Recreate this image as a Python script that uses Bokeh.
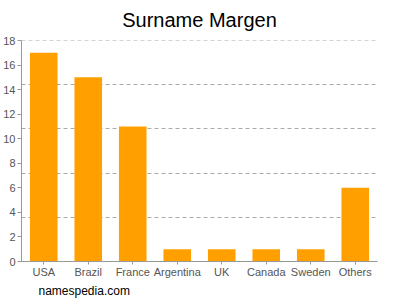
from bokeh.plotting import figure
from bokeh.models import FactorRange, Range1d, FixedTicker, Title, ColumnDataSource, Span
from bokeh.embed import file_html
from bokeh.resources import INLINE

countries = ["USA", "Brazil", "France", "Argentina", "UK", "Canada", "Sweden", "Others"]
counts = [17, 15, 11, 1, 1, 1, 1, 6]
y_ticks = [0, 2, 4, 6, 8, 10, 12, 14, 16, 18]
grid_lines = [3.6, 7.2, 10.8, 14.4, 18]

src = ColumnDataSource(data=dict(x=countries, top=counts))

p = figure(width=400, height=300, output_backend="svg", toolbar_location=None,
           x_range=FactorRange(*countries, range_padding=0),
           y_range=Range1d(0, 18),
           min_border_left=17, min_border_right=23, min_border_top=0, min_border_bottom=39)

p.vbar(x="x", top="top", width=0.62, source=src, fill_color="#FFA000", line_color=None)

p.title.text = "Surname Margen"
p.title.align = "center"
p.title.vertical_align = "top"
p.title.text_font = "Liberation Sans"
p.title.text_font_size = "20px"
p.title.text_font_style = "normal"
p.title.text_color = "#000000"
p.title.text_line_height = 1.0
p.title.standoff = 16

foot = Title(text="namespedia.com", align="left", offset=17, standoff=3,
             text_font="Liberation Sans", text_font_size="12px",
             text_font_style="normal", text_color="#000000")
p.add_layout(foot, "below")

p.outline_line_color = None
p.xgrid.grid_line_color = None
p.ygrid.ticker = FixedTicker(ticks=grid_lines)
p.ygrid.grid_line_color = "#aaaaaa"
p.ygrid.grid_line_dash = "4 3"
p.add_layout(Span(location=grid_lines[-1], dimension="width", line_color="#aaaaaa",
                  line_dash="4 3", line_width=1))

p.yaxis.ticker = FixedTicker(ticks=y_ticks)
for ax in (p.xaxis, p.yaxis):
    ax.axis_line_color = "#999999"
    ax.major_tick_line_color = "#999999"
    ax.minor_tick_line_color = None
    ax.major_tick_in = 0
    ax.major_tick_out = 4
    ax.major_label_text_font = "Liberation Sans"
    ax.major_label_text_font_size = "11px"
    ax.major_label_text_color = "#555555"
    ax.major_label_standoff = 2

p.xaxis.major_tick_out = 3
p.xaxis.major_label_standoff = 1

open("out.html", "w").write(file_html(p, INLINE))
